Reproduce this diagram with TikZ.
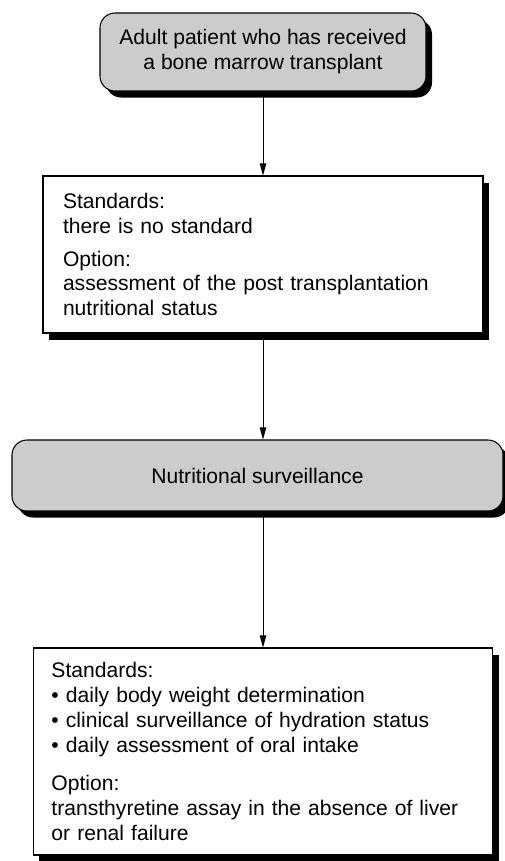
\documentclass[tikz,border=0pt]{standalone}
\usepackage{fontspec}
\setmainfont{Liberation Sans}
\usetikzlibrary{arrows.meta,shadows}

\begin{document}
\begin{tikzpicture}[font=\fontsize{12}{14.2}\selectfont,
  boxshadow/.style={drop shadow={shadow xshift=0.12cm, shadow yshift=-0.13cm, fill=black, opacity=1}},
  greybox/.style={draw, line width=0.6pt, fill=black!20, rounded corners=0.3cm, align=center, boxshadow},
  whitebox/.style={draw, line width=0.6pt, fill=white, align=left, boxshadow},
  link/.style={-{Triangle[length=0.24cm, width=0.13cm]}, line width=0.5pt}]
  \useasboundingbox (0,0) rectangle (10.1,-17.22);
  \node[greybox, minimum width=6.52cm, minimum height=1.56cm] (patient) at (5.26,-1.04) {Adult patient who has received\\a bone marrow transplant};
  \node[whitebox, text width=8.0cm, inner xsep=0.4cm, minimum height=3.14cm] (assess) at (5.26,-5.09) {Standards:\\there is no standard\\[0.16cm]Option:\\assessment of the post transplantation\\nutritional status};
  \node[greybox, minimum width=9.82cm, minimum height=1.42cm] (surv) at (5.15,-9.51) {Nutritional surveillance};
  \node[whitebox, text width=8.46cm, inner xsep=0.36cm, minimum height=4.14cm] (daily) at (5.26,-15.03) {Standards:\\\textbullet\ daily body weight determination\\\textbullet\ clinical surveillance of hydration status\\\textbullet\ daily assessment of oral intake\\[0.26cm]Option:\\transthyretine assay in the absence of liver\\or renal failure};
  % arrows down the chart
  \draw[link] (patient) -- (assess);
  \draw[link] (assess.south) -- (assess.south |- surv.north);
  \draw[link] (surv.south -| daily.north) -- (daily.north);
\end{tikzpicture}
\end{document}
